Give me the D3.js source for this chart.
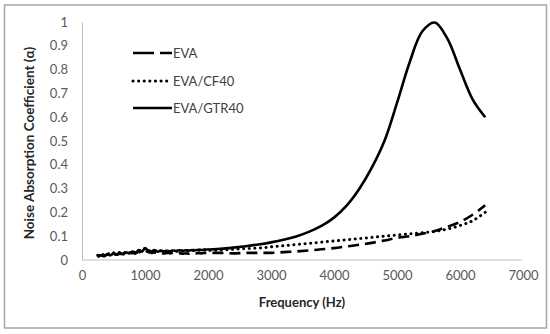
<!DOCTYPE html>
<html>
<head>
<meta charset="utf-8">
<script src="https://cdn.jsdelivr.net/npm/d3@7"></script>
<style>
  body { margin: 0; background: #fff; }
  svg text { font-family: Lato, "Open Sans", sans-serif; }
</style>
</head>
<body>
<div id="chart"></div>
<script>
// datos
const freq = [250, 300, 350, 400, 450, 500, 550, 600, 650, 700, 750, 800, 850, 900, 950, 1000,
  1050, 1100, 1150, 1200, 1250, 1300, 1350, 1400, 1450, 1500, 1550, 1600, 1650, 1700, 1750,
  1800, 1850, 1900, 1950, 2000, 2200, 2400, 2600, 2800, 3000, 3200, 3400, 3600, 3800, 4000,
  4200, 4400, 4600, 4800, 5000, 5200, 5400, 5600, 5800, 6000, 6200, 6400];

const eva = [0.015, 0.02, 0.018, 0.022, 0.02, 0.025, 0.022, 0.026, 0.024, 0.028, 0.025, 0.03,
  0.027, 0.035, 0.03, 0.04, 0.033, 0.03, 0.032, 0.028, 0.03, 0.027, 0.03, 0.028, 0.03, 0.027,
  0.029, 0.026, 0.028, 0.026, 0.028, 0.027, 0.029, 0.028, 0.03, 0.03,
  0.03, 0.028, 0.03, 0.03, 0.03, 0.033, 0.036, 0.04, 0.045, 0.05, 0.057, 0.064, 0.072, 0.082,
  0.093, 0.1, 0.11, 0.122, 0.14, 0.16, 0.19, 0.23];

const cf40 = [0.02, 0.025, 0.022, 0.027, 0.025, 0.03, 0.027, 0.032, 0.028, 0.033, 0.03, 0.036,
  0.032, 0.04, 0.036, 0.048, 0.04, 0.037, 0.04, 0.036, 0.038, 0.035, 0.038, 0.036, 0.039, 0.037,
  0.04, 0.037, 0.039, 0.038, 0.04, 0.039, 0.041, 0.04, 0.042, 0.04,
  0.042, 0.045, 0.048, 0.05, 0.055, 0.06, 0.065, 0.07, 0.075, 0.08, 0.085, 0.09, 0.095, 0.1,
  0.105, 0.11, 0.115, 0.12, 0.13, 0.145, 0.165, 0.2];

const gtr40 = [0.012, 0.02, 0.016, 0.024, 0.02, 0.027, 0.024, 0.03, 0.026, 0.032, 0.028, 0.035,
  0.03, 0.042, 0.035, 0.05, 0.04, 0.036, 0.042, 0.035, 0.04, 0.036, 0.039, 0.037, 0.04, 0.038,
  0.041, 0.039, 0.041, 0.04, 0.042, 0.041, 0.043, 0.042, 0.044, 0.044,
  0.047, 0.052, 0.058, 0.065, 0.074, 0.085, 0.099, 0.118, 0.143, 0.178, 0.228, 0.298, 0.388, 0.5,
  0.66, 0.83, 0.96, 0.998, 0.93, 0.8, 0.675, 0.6];

const seriesNames = ["EVA", "EVA/CF40", "EVA/GTR40"];
const xTicks = [0, 1000, 2000, 3000, 4000, 5000, 6000, 7000];
const yTicks = [0, 0.1, 0.2, 0.3, 0.4, 0.5, 0.6, 0.7, 0.8, 0.9, 1];

const WIDTH = 550;
const HEIGHT = 334;

const svg = d3.select("#chart").append("svg").attr("width", WIDTH).attr("height", HEIGHT);

// borde exterior
svg.append("rect").attr("x", 4.5).attr("y", 5).attr("width", 542).attr("height", 323)
  .attr("fill", "white").attr("stroke", "#a6a6a6").attr("stroke-width", 1.5);

const x = d3.scaleLinear().domain([0, 7000]).range([82, 523]);
const y = d3.scaleLinear().domain([0, 1]).range([260, 22]);

// ejes
const gx = svg.append("g").attr("transform", "translate(0,260)")
  .call(d3.axisBottom(x).tickValues(xTicks).tickSize(0).tickPadding(11).tickFormat(d3.format("d")));
const gy = svg.append("g").attr("transform", "translate(82,0)")
  .call(d3.axisLeft(y).tickValues(yTicks).tickSize(0).tickPadding(14).tickFormat(d => d));

[gx, gy].forEach(g => {
  g.select(".domain").attr("stroke", "#bfbfbf").attr("stroke-width", 1);
  g.selectAll("text").attr("fill", "#595959").attr("font-size", "13px");
});
gx.select(".domain").attr("d", "M82,0H522");

// titulos
svg.append("text").text("Frequency (Hz)").attr("x", 302).attr("y", 307)
  .attr("text-anchor", "middle").attr("font-weight", "bold").attr("font-size", "13px").attr("fill", "#262626");
svg.append("text").text("Noise Absorption Coefficient (α)")
  .attr("transform", "translate(34,143) rotate(-90)")
  .attr("text-anchor", "middle").attr("font-weight", "bold").attr("font-size", "13.5px").attr("fill", "#262626");

// estilos de linea
const styles = [
  { dash: "11,6", cap: "butt", w: 2.6 },
  { dash: "0.1,5.5", cap: "round", w: 3 },
  { dash: null, cap: "butt", w: 2.6 }
];
const values = [eva, cf40, gtr40];

const line = d3.line()
  .x((d, i) => x(freq[i]))
  .y(d => y(d))
  .curve(d3.curveCatmullRom.alpha(0.5));

svg.selectAll(".serie").data(values).join("path").attr("class", "serie")
  .attr("d", d => line(d))
  .attr("fill", "none")
  .attr("stroke", "black")
  .attr("stroke-width", (d, i) => styles[i].w)
  .attr("stroke-linecap", (d, i) => styles[i].cap)
  .attr("stroke-linejoin", "round")
  .attr("stroke-dasharray", (d, i) => styles[i].dash);

// leyenda
const legY = [53, 81, 108];
const leg = svg.selectAll(".leg").data(seriesNames).join("g").attr("class", "leg")
  .attr("transform", (d, i) => `translate(133,${legY[i]})`);
leg.append("line").attr("x1", 0).attr("x2", 39).attr("y1", 0).attr("y2", 0)
  .attr("stroke", "black")
  .attr("stroke-width", (d, i) => styles[i].w)
  .attr("stroke-linecap", (d, i) => styles[i].cap)
  .attr("stroke-dasharray", (d, i) => i == 0 ? "21,6,12" : styles[i].dash);
leg.append("text").text(d => d).attr("x", 40).attr("y", 4.5)
  .attr("font-size", "13px").attr("fill", "#404040");
</script>
</body>
</html>
